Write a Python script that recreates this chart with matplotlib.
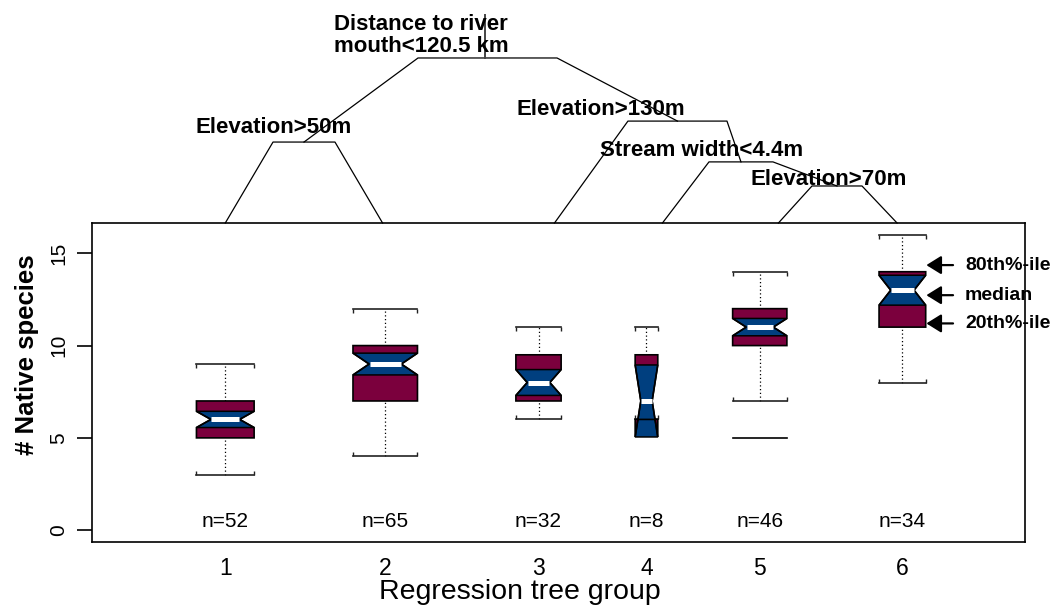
import matplotlib
matplotlib.use('Agg')
import matplotlib.pyplot as plt
from matplotlib.patches import Polygon

plt.rcParams['font.family'] = ['Liberation Sans', 'DejaVu Sans']

# ---------------- data ----------------
groups = ['1', '2', '3', '4', '5', '6']
positions = [1.0, 2.2, 3.35, 4.16, 5.01, 6.08]
n_obs = [52, 65, 32, 8, 46, 34]
whisk_lo = [3, 4, 6, 6, 7, 8]
q20 = [5, 7, 7, 6, 10, 11]
notch_lo = [5.56, 8.41, 7.3, 5.05, 10.53, 12.19]
median = [6, 9, 8, 7, 11, 13]
notch_hi = [6.44, 9.59, 8.7, 8.95, 11.47, 13.81]
q80 = [7, 10, 9.5, 9.5, 12, 14]
whisk_hi = [9, 12, 11, 11, 14, 16]
outlier_group = [4]
outlier_value = [5]

y_ticks = [0, 5, 10, 15]

# regression tree drawn above the plot
leaf_x = [1.0, 2.18, 3.47, 4.28, 5.15, 6.04]
node_labels = ['Distance to river\nmouth<120.5 km', 'Elevation>50m',
               'Elevation>130m', 'Stream width<4.4m', 'Elevation>70m']
node_xl = [2.446, 1.358, 4.021, 4.629, 5.402]
node_xr = [3.489, 1.823, 4.764, 5.109, 5.777]
node_h = [0.74, 0.363, 0.457, 0.274, 0.166]
node_left = ['N1', 'L0', 'L2', 'L3', 'L4']
node_right = ['N2', 'L1', 'N3', 'N4', 'L5']
label_x = [2.47, 1.365, 3.819, 4.576, 5.529]
label_y = [0.841, 0.43, 0.507, 0.327, 0.197]
root_tick_x = 2.948
root_tick_top = 0.933

key_labels = ['80th%-ile', 'median', '20th%-ile']
key_y = [14.36, 12.73, 11.2]

MAROON = '#7B003D'
BLUE = '#003F7F'

# ---------------- figure ----------------
fig = plt.figure(figsize=(10.53, 6.10), dpi=100)
L, R, B, T = 92 / 1053, 1025 / 1053, (610 - 542) / 610, (610 - 223) / 610
ax = fig.add_axes([L, B, R - L, T - B])
ax.set_xlim(0, 7)
ax.set_ylim(-0.64, 16.64)

for i, x in enumerate(positions):
    w = 0.06 * n_obs[i] ** 0.5
    h = w / 2
    q = w / 4
    # whiskers
    ax.plot([x, x], [q80[i], whisk_hi[i]], color='black', lw=0.9,
            linestyle=(0, (1, 2)), zorder=1)
    ax.plot([x, x], [whisk_lo[i], q20[i]], color='black', lw=0.9,
            linestyle=(0, (1, 2)), zorder=1)
    ax.plot([x - h, x + h], [whisk_hi[i]] * 2, color='#222222', lw=1.2,
            marker=3, markersize=3, mew=1, zorder=2)
    ax.plot([x - h, x + h], [whisk_lo[i]] * 2, color='#222222', lw=1.2,
            marker=2, markersize=3, mew=1, zorder=2)
    # notched box
    outline = [(x - h, q20[i]), (x + h, q20[i]), (x + h, notch_lo[i]),
               (x + q, median[i]), (x + h, notch_hi[i]), (x + h, q80[i]),
               (x - h, q80[i]), (x - h, notch_hi[i]), (x - q, median[i]),
               (x - h, notch_lo[i])]
    ax.add_patch(Polygon(outline, closed=True, facecolor=MAROON,
                         edgecolor='none', zorder=3))
    bow = [(x - h, notch_lo[i]), (x + h, notch_lo[i]), (x + q, median[i]),
           (x + h, notch_hi[i]), (x - h, notch_hi[i]), (x - q, median[i])]
    ax.add_patch(Polygon(bow, closed=True, facecolor=BLUE,
                         edgecolor='black', lw=1.1, zorder=4))
    ax.add_patch(Polygon(outline, closed=True, facecolor='none',
                         edgecolor='black', lw=1.2, zorder=5))
    ax.plot([x - q * 0.97, x + q * 0.97], [median[i]] * 2, color='white',
            lw=3.6, solid_capstyle='butt', zorder=6)
    ax.text(x, 0.45, f'n={n_obs[i]}', ha='center', va='center', fontsize=15)

for g, v in zip(outlier_group, outlier_value):
    x = positions[g]
    h = 0.03 * n_obs[g] ** 0.5
    ax.plot([x - h, x + h], [v, v], color='black', lw=1.2, zorder=2)

# key arrows
for lab, yv in zip(key_labels, key_y):
    ax.annotate('', xy=(6.26, yv), xytext=(6.46, yv),
                arrowprops=dict(arrowstyle='-|>,head_length=0.45,head_width=0.28',
                                color='black', lw=1.6, mutation_scale=20,
                                shrinkA=0, shrinkB=0),
                annotation_clip=False)
    ax.text(6.55, yv, lab, ha='left', va='center', fontsize=14,
            fontweight='bold', clip_on=False, zorder=10)

ax.set_yticks(y_ticks)
ax.set_yticklabels([str(t) for t in y_ticks], rotation=90, va='center',
                   fontsize=15)
ax.set_xticks(positions)
ax.set_xticklabels(groups, fontsize=16.5)
ax.tick_params(axis='x', length=0, pad=11)
ax.tick_params(axis='y', length=11, width=1.2, pad=6)
for s in ax.spines.values():
    s.set_linewidth(1.2)

fig.text(27 / 1053, (610 - 355) / 610, '# Native species', rotation=90,
         ha='center', va='center', fontsize=18.5, fontweight='bold')
fig.text(520 / 1053, (610 - 592) / 610, 'Regression tree group',
         ha='center', va='center', fontsize=20.5)

# ---------------- tree ----------------
tax = fig.add_axes([L, T, R - L, 1 - T])
tax.set_xlim(0, 7)
tax.set_ylim(0, 1)
tax.axis('off')


def child_point(code):
    k = int(code[1:])
    if code[0] == 'L':
        return leaf_x[k], 0.0
    return (node_xl[k] + node_xr[k]) / 2, node_h[k]


for k in range(len(node_labels)):
    lx, ly = child_point(node_left[k])
    rx, ry = child_point(node_right[k])
    tax.plot([lx, node_xl[k], node_xr[k], rx], [ly, node_h[k], node_h[k], ry],
             color='black', lw=0.9, clip_on=False)
    tax.text(label_x[k], label_y[k], node_labels[k], ha='center', va='center',
             multialignment='center', fontsize=16, fontweight='bold',
             linespacing=1.05, clip_on=False)

tax.plot([root_tick_x, root_tick_x], [node_h[0], root_tick_top], color='#444444',
         lw=1.4, clip_on=False)

fig.savefig('out.png', dpi=100)
